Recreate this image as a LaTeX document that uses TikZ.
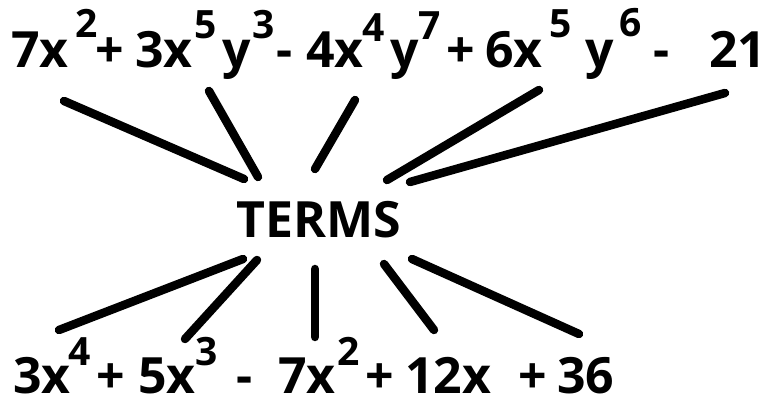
\documentclass[tikz,border=0pt]{standalone}
\usepackage{fontspec}
\setmainfont{Open Sans}
\begin{document}
\begin{tikzpicture}[x=1pt,y=-1pt,
  big/.style={anchor=base west,inner sep=0pt,font=\fontsize{50}{60}\selectfont\bfseries},
  sml/.style={anchor=base west,inner sep=0pt,font=\fontsize{39}{46}\selectfont\bfseries},
  link/.style={line width=8.5pt,line cap=round}]
\useasboundingbox (0,0) rectangle (764,398);
% top row
\node[big] (p1) at (11,68) {7x};
\node[sml] (p2) at (75,38) {2};
\node[big] (p3) at (95,68) {+};
\node[big] (p4) at (135,68) {3x};
\node[sml] (p5) at (194,39) {5};
\node[big] (p6) at (222,68) {y};
\node[sml] (p7) at (252,39) {3};
\node[big] (p8) at (276,68) {-};
\node[big] (p9) at (306,68) {4x};
\node[sml] (p10) at (362,42) {4};
\node[big] (p11) at (390,68) {y};
\node[sml] (p12) at (418,40) {7};
\node[big] (p13) at (446,68) {+};
\node[big] (p14) at (485,68) {6x};
\node[sml] (p15) at (549,38) {5};
\node[big] (p16) at (585,68) {y};
\node[sml] (p17) at (619,37) {6};
\node[big] (p18) at (653,68) {-};
\node[big] (p19) at (709,68) {21};
% centre
\node[big] (terms) at (236,238) {TERMS};
% bottom row
\node[big] (q1) at (13,393) {3x};
\node[sml] (q2) at (68,366) {4};
\node[big] (q3) at (96,393) {+};
\node[big] (q4) at (138,393) {5x};
\node[sml] (q5) at (195,366) {3};
\node[big] (q6) at (236,393) {-};
\node[big] (q7) at (278,393) {7x};
\node[sml] (q8) at (337,366) {2};
\node[big] (q9) at (365,393) {+};
\node[big] (q10) at (405,393) {12x};
\node[big] (q11) at (518,393) {+};
\node[big] (q12) at (557,393) {36};
% line ends
\coordinate (ta1) at (64,101);  \coordinate (tb1) at (244,179);
\coordinate (ta2) at (209,91);  \coordinate (tb2) at (258,177);
\coordinate (ta3) at (355,100); \coordinate (tb3) at (315,169);
\coordinate (ta4) at (539,90);  \coordinate (tb4) at (387,180);
\coordinate (ta5) at (725,93);  \coordinate (tb5) at (410,182);
\coordinate (ba1) at (243,259); \coordinate (bb1) at (59,330);
\coordinate (ba2) at (257,260); \coordinate (bb2) at (185,339);
\coordinate (ba3) at (315,269); \coordinate (bb3) at (315,337);
\coordinate (ba4) at (384,264); \coordinate (bb4) at (434,330);
\coordinate (ba5) at (412,259); \coordinate (bb5) at (579,334);
\foreach \i in {1,...,5} {
  \draw[link] (ta\i) -- (tb\i);
  \draw[link] (ba\i) -- (bb\i);
}
\end{tikzpicture}
\end{document}
